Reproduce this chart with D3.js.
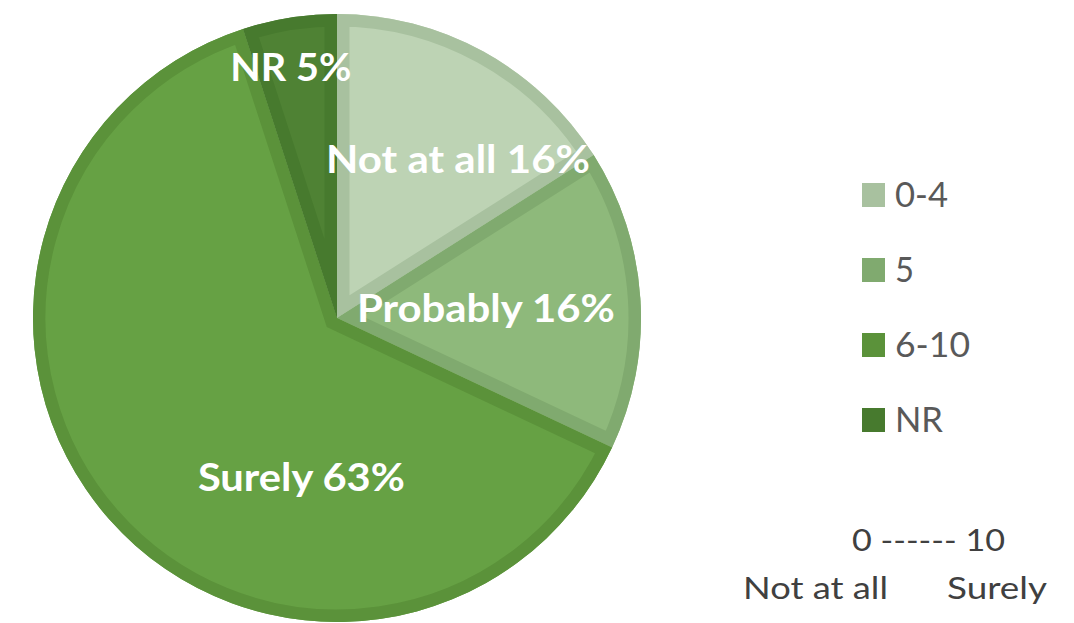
<!DOCTYPE html>
<html>
<head>
<meta charset="utf-8">
<script src="https://cdn.jsdelivr.net/npm/d3@7"></script>
<style>
  html, body { margin: 0; padding: 0; background: #ffffff; }
  svg { display: block; }
</style>
</head>
<body>
<svg id="chart" width="1074" height="623"></svg>
<script>
// Answer groups on the 0–10 scale, share of respondents (%)
const categories = ["0-4", "5", "6-10", "NR"];
const shares = [16, 16, 63, 5];
const sliceLabels = ["Not at all 16%", "Probably 16%", "Surely 63%", "NR 5%"];
const scaleLabels = ["0 ------ 10", "Not at all", "Surely"];

const fills   = ["#bdd3b4", "#8eb97b", "#66a144", "#4f8234"];
const borders = ["#a8c19f", "#80aa6f", "#5b923a", "#477a2e"];

const svg = d3.select("#chart");
const cx = 337, cy = 318, radius = 304;

const pie = d3.pie().sort(null).value(d => d)(shares);
const arc = d3.arc().innerRadius(0).outerRadius(radius);

const defs = svg.append("defs");
defs.selectAll("clipPath")
  .data(pie)
  .join("clipPath")
  .attr("id", (d, i) => "slice-clip-" + i)
  .append("path")
  .attr("d", arc);

const g = svg.append("g").attr("transform", `translate(${cx},${cy})`);

// slice fill
g.selectAll("path.fill")
  .data(pie)
  .join("path")
  .attr("class", "fill")
  .attr("d", arc)
  .attr("fill", (d, i) => fills[i]);

// inner border of each slice (stroke clipped to the slice itself)
g.selectAll("path.edge")
  .data(pie)
  .join("path")
  .attr("class", "edge")
  .attr("d", arc)
  .attr("fill", "none")
  .attr("stroke", (d, i) => borders[i])
  .attr("stroke-width", 25)
  .attr("stroke-linejoin", "miter")
  .attr("stroke-miterlimit", 20)
  .attr("clip-path", (d, i) => `url(#slice-clip-${i})`);

// data labels: placement angle (deg, clockwise from top), radius fraction, drawn width
const labelLayout = [
  { angle: 37.3, rf: 0.657, w: 264 },
  { angle: 86.0, rf: 0.491, w: 258 },
  { angle: 192.6, rf: 0.537, w: 207 },
  { angle: 349.6, rf: 0.841, w: 121 }
];
g.selectAll("text.lbl")
  .data(pie)
  .join("text")
  .attr("class", "lbl")
  .attr("x", (d, i) => Math.sin(labelLayout[i].angle * Math.PI / 180) * radius * labelLayout[i].rf)
  .attr("y", (d, i) => -Math.cos(labelLayout[i].angle * Math.PI / 180) * radius * labelLayout[i].rf + 14)
  .attr("text-anchor", "middle")
  .attr("font-family", "Lato, 'Open Sans', sans-serif")
  .attr("font-weight", "bold")
  .attr("font-size", 39)
  .attr("fill", "#ffffff")
  .attr("textLength", (d, i) => labelLayout[i].w)
  .attr("lengthAdjust", "spacingAndGlyphs")
  .text((d, i) => sliceLabels[i]);

// legend
const legendY = d3.scalePoint().domain(categories).range([195, 420]);
const legendWidths = [53, 19, 75, 48];
const legend = svg.append("g");
legend.selectAll("rect")
  .data(categories)
  .join("rect")
  .attr("x", 862)
  .attr("y", d => legendY(d) - 12)
  .attr("width", 23)
  .attr("height", 24)
  .attr("fill", (d, i) => borders[i]);
legend.selectAll("text")
  .data(categories)
  .join("text")
  .attr("x", 895)
  .attr("y", d => legendY(d) + 12)
  .attr("font-family", "Lato, 'Open Sans', sans-serif")
  .attr("font-size", 35)
  .attr("fill", "#595959")
  .attr("textLength", (d, i) => legendWidths[i])
  .attr("lengthAdjust", "spacingAndGlyphs")
  .text(d => d);

// scale explanation under the legend
const scaleLayout = [
  { x: 852, y: 551, w: 153 },
  { x: 743, y: 599, w: 145 },
  { x: 947, y: 599, w: 100 }
];
svg.append("g").selectAll("text")
  .data(scaleLabels)
  .join("text")
  .attr("x", (d, i) => scaleLayout[i].x)
  .attr("y", (d, i) => scaleLayout[i].y)
  .attr("font-family", "Lato, 'Open Sans', sans-serif")
  .attr("font-size", 31)
  .attr("fill", "#404040")
  .attr("textLength", (d, i) => scaleLayout[i].w)
  .attr("lengthAdjust", "spacingAndGlyphs")
  .text(d => d);
</script>
</body>
</html>
